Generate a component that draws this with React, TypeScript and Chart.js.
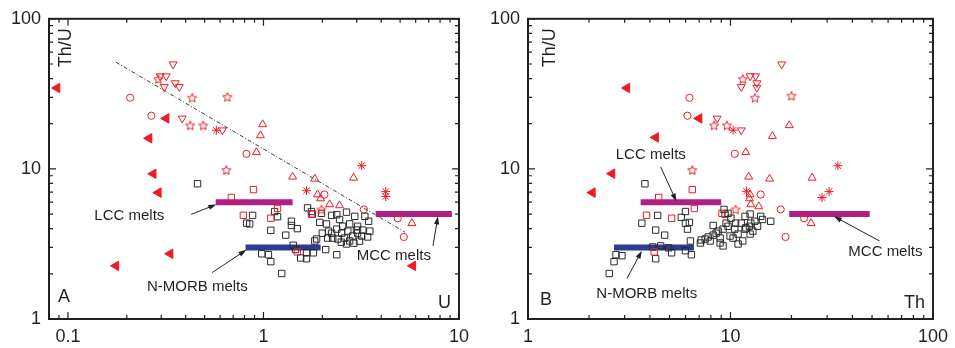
import React, { useEffect, useRef } from "react";
import { Chart, registerables } from "chart.js";
Chart.register(...registerables);

// ===================== DATA =====================
// Panel A : U (x) vs Th/U (y)
const aFilledTriU = [0.088, 0.318, 0.26, 0.273, 0.29, 0.333, 0.176, 5.81];
const aFilledTriThU = [34.6, 21.7, 16.0, 9.27, 6.95, 2.72, 2.26, 2.26];
const aCircleU = [0.208, 0.267, 0.818, 2.05, 3.26, 4.86, 5.22];
const aCircleThU = [29.8, 22.6, 12.6, 6.75, 5.37, 4.69, 3.52];
const aTriDownU = [0.345, 0.296, 0.318, 0.311, 0.354, 0.371, 0.384, 0.616];
const aTriDownThU = [49.8, 41.5, 41.5, 35.2, 37.3, 35.2, 21.7, 18.1];
const aTriUpU = [0.99, 0.965, 0.921, 1.41, 1.83, 2.89, 1.89, 1.96, 2.18, 2.45, 5.74];
const aTriUpThU = [19.8, 16.7, 12.9, 8.86, 8.59, 8.72, 6.75, 6.35, 5.8, 5.71, 4.35];
const aStarU = [0.29, 0.432, 0.654, 0.422, 0.492, 0.646, 1.98];
const aStarThU = [39.7, 29.8, 30.2, 19.5, 19.5, 9.84, 5.37];
const aAsteriskU = [0.574, 3.18, 1.66, 4.22, 4.22];
const aAsteriskThU = [18.1, 10.5, 7.16, 7.06, 6.55];
const aRedSqU = [0.889, 0.685, 0.789, 1.09, 1.18, 1.49, 1.76];
const aRedSqThU = [7.28, 6.45, 4.91, 4.69, 5.45, 2.8, 5.0];
const aBlackSqU = [
  0.46, 0.88, 0.82, 1.09, 1.14, 1.18, 0.98, 1.06, 1.09, 1.24, 1.3, 1.39, 1.39, 1.49, 1.42, 1.46,
  1.55, 1.66, 1.83, 2.08, 2.37, 1.68, 1.76, 1.78, 1.98, 1.94, 2.1, 2.23, 2.37, 2.45, 2.66, 2.93,
  2.76, 3.03, 3.45, 3.3, 2.54, 2.37, 2.23, 2.13, 2.26, 2.4, 2.6, 2.76, 2.86, 3.03, 3.18, 3.41,
  3.5, 2.51, 2.7, 2.99, 3.22, 2.66, 2.15, 2.0, 1.87, 0.85, 1.8, 1.66, 2.9, 3.1, 2.5,
];
const aBlackSqThU = [
  7.96, 4.9, 4.35, 3.9, 5.2, 4.8, 2.72, 2.68, 2.41, 2.01, 3.62, 4.48, 4.2, 4.0, 3.1, 2.9,
  2.55, 2.76, 3.31, 2.9, 2.68, 5.5, 5.2, 5.0, 5.06, 4.4, 4.3, 4.9, 4.95, 4.6, 5.15, 4.83,
  4.3, 4.15, 4.48, 4.83, 4.15, 3.97, 3.73, 3.46, 3.46, 3.41, 3.46, 3.31, 3.57, 3.73, 3.57, 3.52,
  3.85, 3.73, 3.85, 3.91, 3.91, 3.16, 3.85, 3.73, 3.41, 4.3, 2.76, 2.52, 3.2, 3.3, 3.25,
];
const aTrendU = [0.176, 5.29];
const aTrendThU = [51.4, 3.79];

// Panel B : Th (x) vs Th/U (y)
const bFilledTriTh = [3.08, 7.0, 4.27, 2.6, 2.08];
const bFilledTriThU = [34.6, 21.7, 16.2, 9.3, 6.95];
const bCircleTh = [6.27, 6.13, 10.5, 14.1, 17.7, 23.1, 18.7];
const bCircleThU = [29.8, 22.6, 12.6, 6.75, 5.37, 4.69, 3.52];
const bTriDownTh = [17.9, 12.5, 13.3, 11.3, 13.5, 13.5, 8.59, 11.3];
const bTriDownThU = [49.8, 41.5, 41.5, 35.2, 37.3, 34.8, 21.7, 18.1];
const bTriUpTh = [19.5, 16.1, 11.9, 12.3, 15.6, 25.3, 12.5, 12.4, 12.6, 13.8, 25.0];
const bTriUpThU = [19.5, 16.5, 12.9, 8.86, 8.59, 8.72, 6.75, 6.35, 5.8, 5.62, 4.35];
const bStarTh = [11.5, 13.2, 20.0, 8.3, 9.61, 6.48, 10.6];
const bStarThU = [39.7, 29.8, 30.7, 19.5, 19.5, 9.84, 5.37];
const bAsteriskTh = [10.3, 33.9, 12.0, 30.7, 28.3];
const bAsteriskThU = [18.1, 10.5, 7.1, 7.06, 6.45];
const bRedSqTh = [6.48, 4.42, 3.85, 5.12, 6.63, 4.2, 9.08];
const bRedSqThU = [7.28, 6.45, 4.91, 4.69, 5.45, 2.8, 5.06];
const bBlackSqTh = [
  2.52, 2.66, 2.72, 2.91, 3.65, 3.78, 4.27, 4.37, 4.73, 4.13, 4.27, 4.52, 5.12, 5.72, 5.99, 5.99,
  6.13, 6.27, 6.34, 5.99, 6.41, 7.1, 4.95, 7.17, 7.5, 7.94, 8.21, 8.49, 8.89, 8.89, 9.19, 9.51,
  9.29, 9.4, 10.05, 10.5, 10.9, 11.3, 11.8, 11.9, 12.5, 12.6, 12.5, 9.95, 15.8, 14.1, 13.2, 12.4,
  11.8, 8.69, 9.72, 10.3, 11.5, 10.6, 8.21, 7.76, 13.6, 9.72, 10.9, 14.4, 9.19, 12.9,
];
const bBlackSqThU = [
  2.01, 2.41, 2.68, 2.64, 4.35, 7.96, 3.91, 4.9, 3.62, 3.02, 2.52, 3.07, 2.76, 4.75, 5.2, 4.35,
  3.97, 4.4, 3.31, 2.85, 2.68, 3.21, 2.98, 3.36, 3.41, 3.31, 4.2, 3.73, 3.46, 3.21, 3.97, 4.35,
  5.37, 5.0, 4.69, 3.97, 3.68, 4.35, 4.83, 4.05, 3.68, 4.35, 5.0, 3.57, 4.48, 4.83, 4.48, 4.15,
  3.97, 3.85, 4.15, 3.46, 3.31, 4.35, 3.62, 3.52, 4.15, 5.06, 3.16, 4.6, 3.07, 3.85,
];

// Melt fields (horizontal bars)
const meltNames = ["LCC melts", "N-MORB melts", "MCC melts"];
const meltThU = [6, 3, 5];
const meltULow = [0.57, 0.81, 3.75];
const meltUHigh = [1.41, 1.96, 9.2];
const meltThLow = [3.6, 2.66, 19.5];
const meltThHigh = [9.0, 6.6, 48.7];

// Axis ticks
const aXTicks = [0.1, 1, 10];
const bXTicks = [1, 10, 100];
const yTicks = [1, 10, 100];

// ===================== STYLE =====================
const FONT = '"Liberation Sans", Arial, Helvetica, sans-serif';
const INK = "#231f20";
const RED = "#ed1c24";
const SQ = "#2b2b2b";
const PURPLE = "#b11f86";
const BLUE = "#2e3a94";
const colorsForMelt = [PURPLE, BLUE, PURPLE];

function makeStar(color: string, r: number, lw: number) {
  const size = Math.ceil(r * 2 + lw * 2 + 2);
  const c = document.createElement("canvas");
  c.width = size;
  c.height = size;
  const ctx = c.getContext("2d")!;
  ctx.translate(size / 2, size / 2 + 0.5);
  ctx.beginPath();
  for (let i = 0; i < 10; i++) {
    const rr = i % 2 === 0 ? r : r * 0.45;
    const ang = -Math.PI / 2 + (i * Math.PI) / 5;
    ctx.lineTo(rr * Math.cos(ang), rr * Math.sin(ang));
  }
  ctx.closePath();
  ctx.strokeStyle = color;
  ctx.lineWidth = lw;
  ctx.stroke();
  return c;
}

const pts = (xs: number[], ys: number[]) => xs.map((x, i) => ({ x, y: ys[i] }));

function marker(data: any[], style: any, r: number, border: string, fill: string, rot = 0, order = 1) {
  return {
    data,
    showLine: false,
    pointStyle: style,
    pointRadius: r,
    pointHoverRadius: r,
    pointBorderWidth: 1,
    pointBorderColor: border,
    pointBackgroundColor: fill,
    pointRotation: rot,
    order,
  };
}

function segment(x0: number, x1: number, y0: number, y1: number, color: string, width: number, dash: number[] = [], order = 10) {
  return {
    type: "line",
    data: [
      { x: x0, y: y0 },
      { x: x1, y: y1 },
    ],
    showLine: true,
    borderColor: color,
    borderWidth: width,
    borderDash: dash,
    borderCapStyle: "butt",
    pointRadius: 0,
    pointHoverRadius: 0,
    fill: false,
    order,
  };
}

type Note = { text: string; tx: number; ty: number; from: [number, number]; to: [number, number] };

type PanelCfg = {
  xMin: number;
  xMax: number;
  xTicks: number[];
  yAxisWidth: number;
  padRight: number;
  datasets: any[];
  notes: Note[];
  letter: string;
  letterDx: number;
  letterDy: number;
  xName: string;
  yNameDx: number;
};

function logMinorValues(min: number, max: number) {
  const out: { v: number; major: boolean }[] = [];
  const e0 = Math.floor(Math.log10(min)) - 1;
  const e1 = Math.ceil(Math.log10(max)) + 1;
  for (let e = e0; e <= e1; e++) {
    for (let m = 1; m <= 9; m++) {
      const v = parseFloat((m * Math.pow(10, e)).toPrecision(6));
      if (v < min * 0.999 || v > max * 1.001) continue;
      out.push({ v, major: m === 1 });
    }
  }
  return out;
}

function overlay(p: PanelCfg) {
  return {
    id: "overlay",
    afterDraw(chart: any) {
      const ctx = chart.ctx as CanvasRenderingContext2D;
      const a = chart.chartArea;
      const xs = chart.scales.x;
      const ys = chart.scales.y;
      ctx.save();
      // inward ticks
      ctx.strokeStyle = INK;
      ctx.lineWidth = 1.2;
      ctx.beginPath();
      for (const t of logMinorValues(xs.min, xs.max)) {
        const px = xs.getPixelForValue(t.v);
        const len = t.major ? 7 : 4;
        ctx.moveTo(px, a.bottom);
        ctx.lineTo(px, a.bottom - len);
        ctx.moveTo(px, a.top);
        ctx.lineTo(px, a.top + len);
      }
      for (const t of logMinorValues(ys.min, ys.max)) {
        const py = ys.getPixelForValue(t.v);
        const len = t.major ? 7 : 4;
        ctx.moveTo(a.left, py);
        ctx.lineTo(a.left + len, py);
        ctx.moveTo(a.right, py);
        ctx.lineTo(a.right - len, py);
      }
      ctx.stroke();
      // frame
      ctx.lineWidth = 2;
      ctx.strokeRect(a.left, a.top, a.right - a.left, a.bottom - a.top);

      // notes with arrows
      ctx.fillStyle = INK;
      ctx.font = `15px ${FONT}`;
      ctx.textAlign = "center";
      ctx.textBaseline = "middle";
      for (const n of p.notes) {
        ctx.fillText(n.text, xs.getPixelForValue(n.tx), ys.getPixelForValue(n.ty));
        const x1 = xs.getPixelForValue(n.from[0]);
        const y1 = ys.getPixelForValue(n.from[1]);
        const x2 = xs.getPixelForValue(n.to[0]);
        const y2 = ys.getPixelForValue(n.to[1]);
        const ang = Math.atan2(y2 - y1, x2 - x1);
        const c = Math.cos(ang);
        const s = Math.sin(ang);
        ctx.lineWidth = 1;
        ctx.beginPath();
        ctx.moveTo(x1, y1);
        ctx.lineTo(x2 - c * 5, y2 - s * 5);
        ctx.stroke();
        ctx.beginPath();
        ctx.moveTo(x2, y2);
        ctx.lineTo(x2 - c * 8 + s * 2.6, y2 - s * 8 - c * 2.6);
        ctx.lineTo(x2 - c * 8 - s * 2.6, y2 - s * 8 + c * 2.6);
        ctx.closePath();
        ctx.fill();
      }

      // panel letter, axis names
      ctx.font = `18px ${FONT}`;
      ctx.textAlign = "left";
      ctx.fillText(p.letter, a.left + p.letterDx, a.bottom + p.letterDy);
      ctx.textAlign = "right";
      ctx.fillText(p.xName, a.right - 8, a.bottom - 16);
      ctx.save();
      ctx.translate(a.left + p.yNameDx, a.top + 29);
      ctx.rotate(-Math.PI / 2);
      ctx.textAlign = "center";
      ctx.fillText("Th/U", 0, 0);
      ctx.restore();
      ctx.restore();
    },
  };
}

function buildConfig(p: PanelCfg): any {
  return {
    type: "scatter",
    data: { datasets: p.datasets },
    plugins: [overlay(p)],
    options: {
      animation: false,
      responsive: false,
      maintainAspectRatio: false,
      events: [],
      layout: { padding: { left: 0, top: 15, right: p.padRight, bottom: 0 } },
      plugins: { legend: { display: false }, tooltip: { enabled: false } },
      scales: {
        x: {
          type: "logarithmic",
          position: "bottom",
          min: p.xMin,
          max: p.xMax,
          grid: { display: false, drawTicks: false },
          border: { display: false },
          afterBuildTicks: (s: any) => {
            s.ticks = p.xTicks.map((v) => ({ value: v, major: true }));
          },
          afterFit: (s: any) => {
            s.height = 29;
          },
          ticks: {
            autoSkip: false,
            maxRotation: 0,
            minRotation: 0,
            padding: 7,
            color: INK,
            font: { family: FONT, size: 18 },
            callback: (v: any) => String(v),
          },
        },
        y: {
          type: "logarithmic",
          position: "left",
          min: 1,
          max: 100,
          grid: { display: false, drawTicks: false },
          border: { display: false },
          afterBuildTicks: (s: any) => {
            s.ticks = yTicks.map((v) => ({ value: v, major: true }));
          },
          afterFit: (s: any) => {
            s.width = p.yAxisWidth;
          },
          ticks: {
            autoSkip: false,
            padding: 8,
            color: INK,
            font: { family: FONT, size: 18 },
            callback: (v: any) => String(v),
          },
        },
      },
    },
  };
}

function commonMarkers(
  star: HTMLCanvasElement,
  ft: any[], ci: any[], td: any[], tu: any[], st: any[], as: any[], rs: any[], bs: any[]
) {
  return [
    marker(ft, "triangle", 5.5, RED, RED, -90, 1),
    marker(ci, "circle", 3.6, RED, "rgba(0,0,0,0)", 0, 1),
    marker(td, "triangle", 4.6, RED, "rgba(0,0,0,0)", 180, 1),
    marker(tu, "triangle", 4.6, RED, "rgba(0,0,0,0)", 0, 1),
    marker(st, star, 5, RED, "rgba(0,0,0,0)", 0, 1),
    marker(as, "star", 4.5, RED, "rgba(0,0,0,0)", 0, 1),
    marker(rs, "rect", 4.5, RED, "rgba(0,0,0,0)", 0, 2),
    marker(bs, "rect", 4.5, SQ, "rgba(0,0,0,0)", 0, 3),
  ];
}

function panelA(): PanelCfg {
  const star = makeStar(RED, 4.8, 1);
  const ds = commonMarkers(
    star,
    pts(aFilledTriU, aFilledTriThU),
    pts(aCircleU, aCircleThU),
    pts(aTriDownU, aTriDownThU),
    pts(aTriUpU, aTriUpThU),
    pts(aStarU, aStarThU),
    pts(aAsteriskU, aAsteriskThU),
    pts(aRedSqU, aRedSqThU),
    pts(aBlackSqU, aBlackSqThU)
  );
  meltNames.forEach((_, i) => ds.push(segment(meltULow[i], meltUHigh[i], meltThU[i], meltThU[i], colorsForMelt[i], 6) as any));
  ds.push(segment(aTrendU[0], aTrendU[1], aTrendThU[0], aTrendThU[1], "#3a3a3a", 1, [4, 2, 1, 2], 11) as any);
  return {
    xMin: 0.08,
    xMax: 10,
    xTicks: aXTicks,
    yAxisWidth: 49,
    padRight: 18,
    datasets: ds,
    notes: [
      { text: meltNames[0], tx: 0.206, ty: 4.83, from: [0.427, 4.98], to: [0.574, 5.8] },
      { text: meltNames[1], tx: 0.459, ty: 1.63, from: [0.547, 2.04], to: [0.818, 2.89] },
      { text: meltNames[2], tx: 4.64, ty: 2.64, from: [7.36, 3.07], to: [7.8, 4.83] },
    ],
    letter: "A",
    letterDx: 9,
    letterDy: -22,
    xName: "U",
    yNameDx: 17,
  };
}

function panelB(): PanelCfg {
  const star = makeStar(RED, 4.8, 1);
  const ds = commonMarkers(
    star,
    pts(bFilledTriTh, bFilledTriThU),
    pts(bCircleTh, bCircleThU),
    pts(bTriDownTh, bTriDownThU),
    pts(bTriUpTh, bTriUpThU),
    pts(bStarTh, bStarThU),
    pts(bAsteriskTh, bAsteriskThU),
    pts(bRedSqTh, bRedSqThU),
    pts(bBlackSqTh, bBlackSqThU)
  );
  meltNames.forEach((_, i) => ds.push(segment(meltThLow[i], meltThHigh[i], meltThU[i], meltThU[i], colorsForMelt[i], 6) as any));
  return {
    xMin: 1,
    xMax: 100,
    xTicks: bXTicks,
    yAxisWidth: 51,
    padRight: 18,
    datasets: ds,
    notes: [
      { text: meltNames[0], tx: 4.04, ty: 12.4, from: [4.52, 10.3], to: [5.41, 6.07] },
      { text: meltNames[1], tx: 3.86, ty: 1.48, from: [3.08, 1.86], to: [3.65, 2.85] },
      { text: meltNames[2], tx: 58.2, ty: 2.8, from: [54.5, 3.31], to: [32.4, 4.83] },
    ],
    letter: "B",
    letterDx: 12,
    letterDy: -19,
    xName: "Th",
    yNameDx: 22,
  };
}

function Panel({ which, left, width }: { which: "A" | "B"; left: number; width: number }) {
  const ref = useRef<HTMLCanvasElement>(null);
  useEffect(() => {
    const cfg = which === "A" ? panelA() : panelB();
    const chart = new Chart(ref.current as HTMLCanvasElement, buildConfig(cfg));
    return () => chart.destroy();
  }, [which]);
  return (
    <canvas
      ref={ref}
      width={width}
      height={348}
      style={{ position: "absolute", left, top: 0, width, height: 348 }}
    />
  );
}

export default function App() {
  return (
    <div style={{ position: "fixed", left: 0, top: 0, width: 955, height: 348, background: "#fff", overflow: "hidden" }}>
      <Panel which="A" left={0} width={477} />
      <Panel which="B" left={477} width={478} />
    </div>
  );
}
